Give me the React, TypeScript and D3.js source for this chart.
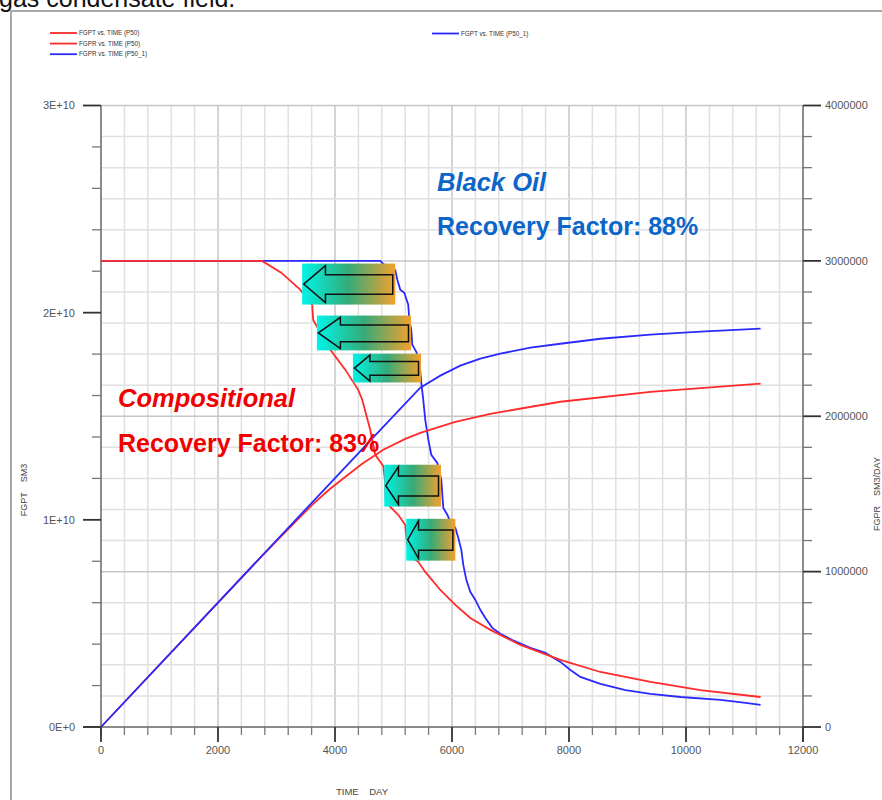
import React from "react";
import * as d3 from "d3";

// ---------- data ----------
// FGPR vs TIME (P50) – compositional gas rate, SM3/DAY
const redRateDays = [0, 2754, 3080, 3405, 3610, 3627, 3918, 4175, 4397, 4465, 4602, 4688, 4825, 4859, 4862, 4944, 5081, 5201, 5235, 5287, 5424, 5543, 5800, 6057, 6313, 6655, 7169, 7853, 8537, 9393, 10248, 11275];
const redRateVals = [3.0e6, 3.0e6, 2.924e6, 2.815e6, 2.718e6, 2.62e6, 2.43e6, 2.30e6, 2.17e6, 2.106e6, 1.913e6, 1.752e6, 1.68e6, 1.572e6, 1.475e6, 1.417e6, 1.366e6, 1.30e6, 1.172e6, 1.10e6, 1.063e6, 0.998e6, 0.882e6, 0.786e6, 0.702e6, 0.625e6, 0.528e6, 0.432e6, 0.354e6, 0.29e6, 0.238e6, 0.193e6];

// FGPR vs TIME (P50_1) – black oil gas rate, SM3/DAY
const blueRateDays = [0, 4773, 4825, 5030, 5064, 5115, 5184, 5252, 5270, 5304, 5321, 5389, 5441, 5475, 5509, 5543, 5595, 5646, 5748, 5817, 5851, 5920, 5971, 6057, 6108, 6159, 6193, 6245, 6313, 6399, 6484, 6570, 6689, 6826, 7032, 7340, 7596, 7853, 8024, 8195, 8537, 8965, 9393, 9906, 10590, 11018, 11275];
const blueRateVals = [3.0e6, 3.0e6, 2.98e6, 2.94e6, 2.88e6, 2.815e6, 2.795e6, 2.718e6, 2.62e6, 2.556e6, 2.46e6, 2.415e6, 2.364e6, 2.216e6, 2.106e6, 1.977e6, 1.849e6, 1.752e6, 1.70e6, 1.591e6, 1.41e6, 1.366e6, 1.32e6, 1.282e6, 1.217e6, 1.14e6, 1.043e6, 0.947e6, 0.87e6, 0.818e6, 0.754e6, 0.702e6, 0.638e6, 0.60e6, 0.56e6, 0.509e6, 0.477e6, 0.419e6, 0.367e6, 0.322e6, 0.277e6, 0.238e6, 0.213e6, 0.193e6, 0.174e6, 0.155e6, 0.142e6];

// FGPT vs TIME (P50) – compositional cumulative gas, SM3
const redCumDays = [0, 2754, 3405, 3627, 3918, 4311, 4465, 4825, 5201, 5458, 6057, 6655, 7853, 9393, 11275];
const redCumVals = [0, 0.826e10, 1.014e10, 1.077e10, 1.150e10, 1.237e10, 1.271e10, 1.338e10, 1.391e10, 1.420e10, 1.473e10, 1.512e10, 1.570e10, 1.618e10, 1.657e10];

// FGPT vs TIME (P50_1) – black oil cumulative gas, SM3
const blueCumDays = [0, 4808, 5115, 5458, 5800, 6142, 6484, 6826, 7340, 7853, 8537, 9393, 10248, 11275];
const blueCumVals = [0, 1.444e10, 1.536e10, 1.638e10, 1.696e10, 1.744e10, 1.778e10, 1.802e10, 1.831e10, 1.850e10, 1.874e10, 1.894e10, 1.908e10, 1.923e10];

// axis ticks
const xTicks = [0, 2000, 4000, 6000, 8000, 10000, 12000];
const leftTicks = [0, 1e10, 2e10, 3e10];
const leftTickLabels = ["0E+0", "1E+10", "2E+10", "3E+10"];
const rightTicks = [0, 1e6, 2e6, 3e6, 4e6];
const rightTickLabels = ["0", "1000000", "2000000", "3000000", "4000000"];

// annotation arrows (day range, FGPT range)
const arrowD0 = [3439, 3690, 4306, 4842, 5218];
const arrowD1 = [5030, 5299, 5470, 5812, 6057];
const arrowV0 = [2.039e10, 1.818e10, 1.663e10, 1.064e10, 0.803e10];
const arrowV1 = [2.237e10, 1.986e10, 1.802e10, 1.266e10, 1.005e10];

const legendLeft = ["FGPT vs. TIME (P50)", "FGPR vs. TIME (P50)", "FGPR vs. TIME (P50_1)"];
const legendLeftColors = ["red", "red", "blue"];
const legendRight = "FGPT vs. TIME (P50_1)";

const RED = "#ff2a2a";
const BLUE = "#2a2aff";
const TXT_BLUE = "#0c66c9";
const TXT_RED = "#f00000";

export default function App() {
  const W = 882, H = 800;
  const x = d3.scaleLinear().domain([0, 12000]).range([101, 803]);
  const yL = d3.scaleLinear().domain([0, 3e10]).range([727, 105.5]);
  const yR = d3.scaleLinear().domain([0, 4e6]).range([727, 105.5]);

  const lineFrom = (days: number[], vals: number[], y: d3.ScaleLinear<number, number>) =>
    d3.line<number>().x((_, i) => x(days[i])).y((v) => y(v))(vals) || "";

  const vGrid = d3.range(400, 12000, 400);
  const hGrid = d3.range(2e5, 4e6 + 1, 2e5);
  const xMinor = d3.range(0, 12001, 400).filter((d) => d % 2000 !== 0);
  const lMinor = d3.range(0, 3e10 + 1, 2e9).filter((d) => Math.round(d / 1e9) % 10 !== 0);
  const rMinor = d3.range(0, 4e6 + 1, 2e5).filter((d) => Math.round(d / 1e5) % 10 !== 0);

  const font = "Arial, 'Liberation Sans', sans-serif";

  return (
    <svg width={W} height={H} style={{ position: "absolute", left: 0, top: 0, background: "#fff" }} fontFamily={font}>
      <defs>
        <linearGradient id="arrowGrad" x1="0" x2="1" y1="0" y2="0">
          <stop offset="0" stopColor="#00f4e8" />
          <stop offset="0.5" stopColor="#35ab78" />
          <stop offset="1" stopColor="#f4a02e" />
        </linearGradient>
      </defs>
      <rect x={0} y={0} width={W} height={H} fill="#fff" />
      {/* cut-off caption */}
      <text x={-1} y={6.5} fontSize={25} fill="#111">gas condensate field.</text>
      {/* frame */}
      <rect x={11} y={11} width={900} height={820} fill="none" stroke="#a8a8a8" strokeWidth={2} />

      {/* legend */}
      {legendLeft.map((t, i) => (
        <g key={t}>
          <line x1={50} x2={77} y1={33 + i * 10.6} y2={33 + i * 10.6} stroke={legendLeftColors[i] === "red" ? RED : BLUE} strokeWidth={1.8} />
          <text x={79} y={33 + i * 10.6} dy="0.35em" fontSize={6.3} fill="#333">{t}</text>
        </g>
      ))}
      <line x1={432} x2={459} y1={33.5} y2={33.5} stroke={BLUE} strokeWidth={1.8} />
      <text x={461} y={33.5} dy="0.35em" fontSize={6.3} fill="#333">{legendRight}</text>

      {/* grid */}
      {vGrid.map((d) => (
        <line key={"vg" + d} x1={x(d)} x2={x(d)} y1={yL(3e10)} y2={yL(0)} stroke={d % 2000 === 0 ? "#c6c6c6" : "#e0e0e0"} strokeWidth={1.5} />
      ))}
      {hGrid.map((d) => (
        <line key={"hg" + d} x1={x(0)} x2={x(12000)} y1={yR(d)} y2={yR(d)} stroke={Math.round(d / 1e5) % 10 === 0 ? "#c6c6c6" : "#e0e0e0"} strokeWidth={1.5} />
      ))}

      {/* axes */}
      <line x1={x(0)} x2={x(0)} y1={yL(3e10)} y2={yL(0) + 8} stroke="#666" strokeWidth={1.5} />
      <line x1={x(12000)} x2={x(12000)} y1={yR(4e6)} y2={yR(0) + 15} stroke="#666" strokeWidth={1.5} />
      <line x1={x(0) - 18} x2={x(12000)} y1={yL(0)} y2={yL(0)} stroke="#666" strokeWidth={1.5} />

      {xTicks.map((d) => (
        <g key={"xt" + d}>
          <line x1={x(d)} x2={x(d)} y1={yL(0)} y2={yL(0) + 15} stroke="#333" strokeWidth={1.8} />
          <text x={x(d)} y={750} dy="0.35em" textAnchor="middle" fontSize={11} fill="#555">{d}</text>
        </g>
      ))}
      {xMinor.map((d) => (
        <line key={"xm" + d} x1={x(d)} x2={x(d)} y1={yL(0)} y2={yL(0) + 8} stroke="#777" strokeWidth={1.3} />
      ))}
      {leftTicks.map((v, i) => (
        <g key={"lt" + v}>
          <line x1={x(0) - 18} x2={x(0)} y1={yL(v)} y2={yL(v)} stroke="#333" strokeWidth={1.8} />
          <text x={75} y={yL(v)} dy="0.35em" textAnchor="end" fontSize={11} fill="#555">{leftTickLabels[i]}</text>
        </g>
      ))}
      {lMinor.map((v) => (
        <line key={"lm" + v} x1={x(0) - 9} x2={x(0)} y1={yL(v)} y2={yL(v)} stroke="#777" strokeWidth={1.3} />
      ))}
      {rightTicks.map((v, i) => (
        <g key={"rt" + v}>
          <line x1={x(12000)} x2={x(12000) + 18} y1={yR(v)} y2={yR(v)} stroke="#333" strokeWidth={1.8} />
          <text x={825} y={yR(v)} dy="0.35em" textAnchor="start" fontSize={11} fill="#555">{rightTickLabels[i]}</text>
        </g>
      ))}
      {rMinor.map((v) => (
        <line key={"rm" + v} x1={x(12000)} x2={x(12000) + 9} y1={yR(v)} y2={yR(v)} stroke="#777" strokeWidth={1.3} />
      ))}

      {/* axis titles */}
      <text x={362} y={792} dy="0.35em" textAnchor="middle" fontSize={9.5} fill="#444" style={{ whiteSpace: "pre" }}>{"TIME    DAY"}</text>
      <text transform="translate(24,490) rotate(-90)" dy="0.35em" textAnchor="middle" fontSize={9} fill="#444" style={{ whiteSpace: "pre" }}>{"FGPT    SM3"}</text>
      <text transform="translate(877,494) rotate(-90)" dy="0.35em" textAnchor="middle" fontSize={9} fill="#444" style={{ whiteSpace: "pre" }}>{"FGPR    SM3/DAY"}</text>

      {/* series */}
      <path d={lineFrom(blueRateDays, blueRateVals, yR)} fill="none" stroke={BLUE} strokeWidth={1.8} />
      <path d={lineFrom(redRateDays, redRateVals, yR)} fill="none" stroke={RED} strokeWidth={1.8} />
      <path d={lineFrom(redCumDays, redCumVals, yL)} fill="none" stroke={RED} strokeWidth={1.8} />
      <path d={lineFrom(blueCumDays, blueCumVals, yL)} fill="none" stroke={BLUE} strokeWidth={1.8} />

      {/* arrows */}
      {arrowD0.map((d0, i) => {
        const x0 = x(d0), x1 = x(arrowD1[i]);
        const y0 = yL(arrowV1[i]), y1 = yL(arrowV0[i]);
        const w = x1 - x0, h = y1 - y0;
        const ym = (y0 + y1) / 2;
        const hb = x0 + 0.25 * w;
        const ht = y0 + 0.05 * h, hbm = y1 - 0.05 * h;
        const st = y0 + 0.27 * h, sb = y1 - 0.25 * h;
        const r = x1 - 2.5;
        const p = `M${x0 + 1.5},${ym} L${hb},${ht} L${hb},${st} L${r},${st} L${r},${sb} L${hb},${sb} L${hb},${hbm} Z`;
        return (
          <g key={"ar" + i}>
            <rect x={x0} y={y0} width={w} height={h} fill="url(#arrowGrad)" />
            <path d={p} fill="none" stroke="#111" strokeWidth={1.5} strokeLinejoin="miter" />
          </g>
        );
      })}

      {/* annotations */}
      <text x={437} y={191} fontSize={25.5} fontWeight="bold" fontStyle="italic" fill={TXT_BLUE}>Black Oil</text>
      <text x={437} y={235} fontSize={25} fontWeight="bold" fill={TXT_BLUE}>Recovery Factor: 88%</text>
      <text x={118} y={407} fontSize={25.5} fontWeight="bold" fontStyle="italic" fill={TXT_RED}>Compositional</text>
      <text x={118} y={452} fontSize={25} fontWeight="bold" fill={TXT_RED}>Recovery Factor: 83%</text>
    </svg>
  );
}
